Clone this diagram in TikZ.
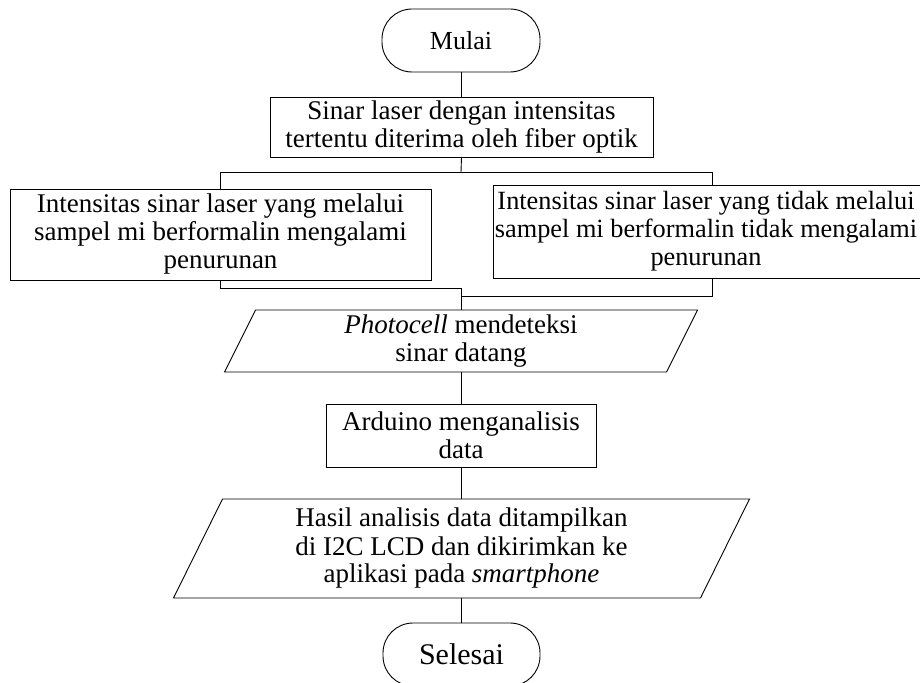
\documentclass[tikz,border=0pt]{standalone}
\usepackage{fontspec}
\setmainfont{Liberation Serif}
\begin{document}
\begin{tikzpicture}[x=1pt,y=-1pt,
  every node/.style={inner sep=0pt,outer sep=0pt,align=center,font=\fontsize{27}{28}\selectfont},
  conn/.style={draw=black,line width=0.9pt},
  procbox/.style={draw=black,fill=white,line width=0.9pt,rectangle},
  termbox/.style={draw=black,fill=white,line width=0.9pt,rectangle,rounded corners=30pt},
  iobox/.style={rectangle}
]
\useasboundingbox (0,0) rectangle (920,682);

% nodes
\node[termbox,minimum width=158pt,minimum height=63pt,font=\fontsize{26}{28}\selectfont] (mulai) at (461,40.5) {Mulai};
\node[procbox,minimum width=383pt,minimum height=60pt] (sinar) at (461.5,127) {Sinar laser dengan intensitas\\tertentu diterima oleh fiber optik};

\coordinate (top) at (461,172);
\coordinate (botL) at (461,288);
\coordinate (botR) at (461,296);

% connectors behind the side boxes
\draw[conn] (mulai.south) -- (mulai.south |- sinar.north);
\draw[conn] (sinar.south) -- (top);
\draw[conn] (top) -| (220,230) |- (botL);
\draw[conn] (top) -| (712,230) |- (botR);

\node[procbox,minimum width=421pt,minimum height=91pt] (left) at (220.5,234.5) {Intensitas sinar laser yang melalui\\sampel mi berformalin mengalami\\penurunan};
\node[procbox,minimum width=438pt,minimum height=93pt] (right) at (712,231.5) {};
\node[font=\fontsize{26.3}{28}\selectfont] (righttxt) at (706,231.5) {Intensitas sinar laser yang tidak melalui\\sampel mi berformalin tidak mengalami\\penurunan};

\node[iobox,minimum width=442pt,minimum height=62pt] (p1) at (461,341) {\textit{Photocell} mendeteksi\\sinar datang};
\draw[conn] ([xshift=15.5pt]p1.north west) -- ([xshift=15.5pt]p1.north east) -- ([xshift=-15.5pt]p1.south east) -- ([xshift=-15.5pt]p1.south west) -- cycle;

\node[procbox,minimum width=270pt,minimum height=63pt] (ard) at (461,435.5) {Arduino menganalisis\\data};

\node[iobox,minimum width=527pt,minimum height=99pt] (p2) at (461.5,548.5) {Hasil analisis data ditampilkan\\di I2C LCD dan dikirimkan ke\\aplikasi pada \textit{smartphone}};
\draw[conn] ([xshift=24.5pt]p2.north west) -- ([xshift=24.5pt]p2.north east) -- ([xshift=-24.5pt]p2.south east) -- ([xshift=-24.5pt]p2.south west) -- cycle;

\node[termbox,minimum width=157pt,minimum height=63pt,font=\fontsize{30}{32}\selectfont] (sel) at (461.5,654.5) {Selesai};

\draw[conn] (botL) -- (p1.north);
\draw[conn] (p1.south) -- (ard.north);
\draw[conn] (ard.south) -- (ard.south |- p2.north);
\draw[conn] (p2.south) -- (p2.south |- sel.north);
\end{tikzpicture}
\end{document}
